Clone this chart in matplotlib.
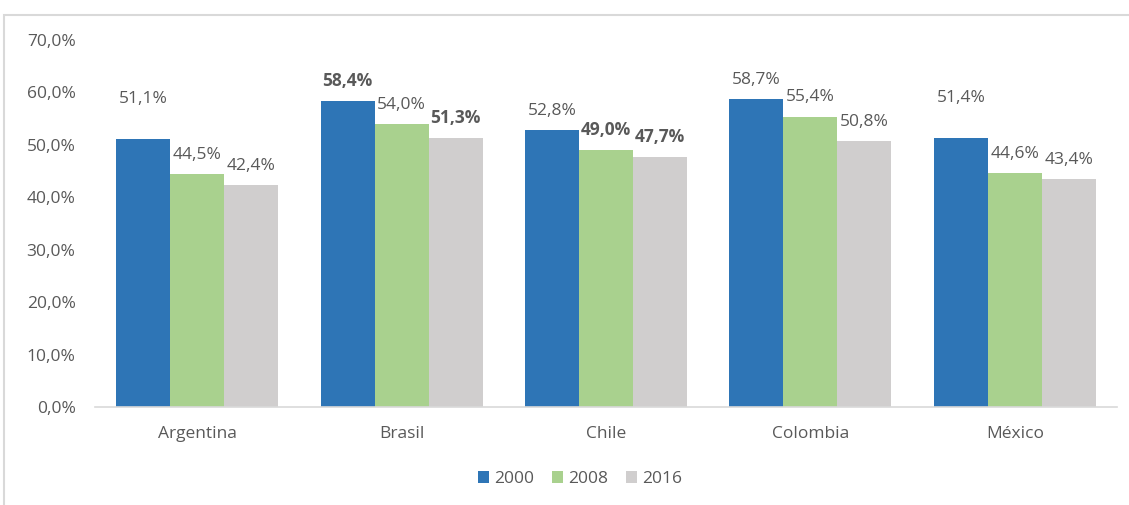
import numpy as np
import matplotlib
matplotlib.use('Agg')
from matplotlib import pyplot as plt
from matplotlib.patches import Rectangle

plt.rcParams['font.family'] = ['Open Sans', 'DejaVu Sans']

# data
paises = ['Argentina', 'Brasil', 'Chile', 'Colombia', 'México']
anios = ['2000', '2008', '2016']
v2000 = [51.1, 58.4, 52.8, 58.7, 51.4]
v2008 = [44.5, 54.0, 49.0, 55.4, 44.6]
v2016 = [42.4, 51.3, 47.7, 50.8, 43.4]

colores = ['#2E75B6', '#A9D18E', '#D0CECE']
texto = '#595959'
# which labels are bold / lifted higher in the original
negrita = [[False, True, False, False, False],
           [False, False, True, False, False],
           [False, True, True, False, False]]
desfase = [[23, 8, 8, 8, 23],
           [8, 8, 8, 8, 8],
           [8, 8, 8, 8, 8]]

fs = 12.5

fig = plt.figure(figsize=(11.29, 5.05), dpi=100)
ax = fig.add_axes([95 / 1129, 1 - 407 / 505, 1022 / 1129, 367 / 505])

# light frame around the chart area
fig.patches.append(Rectangle((4 / 1129, -0.1), 1.2, 1 - 15 / 505 + 0.1,
                             transform=fig.transFigure, fill=False,
                             edgecolor='#d9d9d9', linewidth=1.5))

x = np.arange(len(paises))
w = 0.264
series = [v2000, v2008, v2016]
for i, vals in enumerate(series):
    pos = x + (i - 1) * w
    ax.bar(pos, vals, width=w, color=colores[i], label=anios[i])
    for j, v in enumerate(vals):
        ax.annotate(f'{v:.1f}%'.replace('.', ','), (pos[j], v),
                    xytext=(0, desfase[i][j]), textcoords='offset points',
                    ha='center', va='bottom', fontsize=fs, color=texto,
                    fontweight='bold' if negrita[i][j] else 'normal')

ax.set_xlim(-0.5, 4.5)
ax.set_ylim(0, 70)
ax.set_yticks(np.arange(0, 71, 10))
ax.set_yticklabels([f'{t:.1f}%'.replace('.', ',') for t in np.arange(0, 71, 10)])
ax.set_xticks(x)
ax.set_xticklabels(paises)
ax.tick_params(axis='both', length=0, colors=texto, labelsize=fs)
ax.tick_params(axis='y', pad=14)
ax.tick_params(axis='x', pad=14)
for s in ['top', 'right', 'left']:
    ax.spines[s].set_visible(False)
ax.spines['bottom'].set_color('#d9d9d9')
ax.spines['bottom'].set_linewidth(1.2)

leg = fig.legend(loc='center', bbox_to_anchor=(580 / 1129, 1 - 479 / 505), ncol=3,
                 frameon=False, fontsize=fs, handlelength=0.65, handleheight=0.65,
                 handletextpad=0.3, columnspacing=1.0)
for t in leg.get_texts():
    t.set_color(texto)

fig.savefig('out.png', dpi=100)
